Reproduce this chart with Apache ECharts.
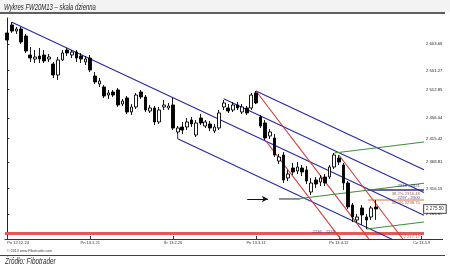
<!DOCTYPE html>
<html><head><meta charset="utf-8">
<script src="https://cdn.jsdelivr.net/npm/echarts@6/dist/echarts.min.js"></script>
<style>html,body{margin:0;padding:0;background:#fff}#c{width:450px;height:267px}</style>
</head><body><div id="c"></div>
<script>
// trading days (categories)
const dates = ['12.12.24','12.12.27','12.12.28','12.12.31','13.01.02','13.01.03','13.01.04','13.01.07','13.01.08','13.01.09','13.01.10','13.01.11','13.01.14','13.01.15','13.01.16','13.01.17','13.01.18','13.01.21','13.01.22','13.01.23','13.01.24','13.01.25','13.01.28','13.01.29','13.01.30','13.01.31','13.02.01','13.02.04','13.02.05','13.02.06','13.02.07','13.02.08','13.02.11','13.02.12','13.02.13','13.02.14','13.02.15','13.02.18','13.02.19','13.02.20','13.02.21','13.02.22','13.02.25','13.02.26','13.02.27','13.02.28','13.03.01','13.03.04','13.03.05','13.03.06','13.03.07','13.03.08','13.03.11','13.03.12','13.03.13','13.03.14','13.03.15','13.03.18','13.03.19','13.03.20','13.03.21','13.03.22','13.03.25','13.03.26','13.03.27','13.03.28','13.04.02','13.04.03','13.04.04','13.04.05','13.04.08','13.04.09','13.04.10','13.04.11','13.04.12','13.04.15','13.04.16','13.04.17','13.04.18','13.04.19','13.04.22','13.04.23','13.04.24','13.04.25','13.04.26','13.04.29','13.04.30','13.05.02','13.05.06','13.05.07','13.05.08'];
// [open, close, low, high]
const candles = [
[2625.6,2611.6,2607.7,2629.5],[2641.5,2629.5,2625.6,2647.4],[2629.5,2633.5,2623.6,2637.5],[2633.5,2607.7,2603.7,2637.5],
[2619.6,2589.8,2585.8,2623.6],[2581.8,2575.8,2567.9,2597.7],[2573.8,2577.8,2565.9,2591.7],[2579.8,2573.8,2565.9,2595.7],
[2581.8,2569.9,2565.9,2591.7],[2573.8,2577.8,2567.9,2583.8],[2563.9,2542.0,2536.1,2567.9],[2542.0,2571.9,2532.1,2577.8],
[2571.9,2585.8,2569.9,2591.7],[2591.7,2585.8,2579.8,2595.7],[2581.8,2587.8,2575.8,2591.7],[2587.8,2575.8,2567.9,2591.7],
[2579.8,2573.8,2565.9,2585.8],[2567.9,2573.8,2561.9,2579.8],[2575.8,2551.9,2548.0,2581.8],[2540.0,2528.1,2524.1,2548.0],
[2524.1,2530.1,2518.2,2536.1],[2518.2,2500.3,2496.3,2522.1],[2502.2,2506.2,2494.3,2512.2],[2508.2,2502.2,2498.3,2512.2],
[2512.2,2482.4,2478.4,2516.2],[2484.3,2490.3,2480.4,2494.3],[2496.3,2468.4,2464.5,2500.3],[2468.4,2478.4,2462.5,2484.3],
[2478.4,2502.2,2474.4,2506.2],[2508.2,2498.3,2494.3,2512.2],[2498.3,2472.4,2468.4,2502.2],[2470.4,2476.4,2466.5,2482.4],
[2476.4,2448.6,2442.6,2480.4],[2448.6,2472.4,2444.6,2478.4],[2478.4,2482.4,2472.4,2492.3],[2476.4,2480.4,2472.4,2486.3],
[2482.4,2436.6,2432.5,2496.3],[2428.7,2436.6,2424.7,2440.6],[2438.6,2432.5,2424.7,2448.6],[2438.6,2448.6,2432.5,2456.5],
[2452.5,2444.6,2438.6,2458.5],[2422.7,2446.6,2418.7,2452.5],[2456.5,2446.6,2442.6,2464.5],[2440.6,2448.6,2436.6,2452.5],
[2444.6,2436.6,2430.6,2450.5],[2430.6,2438.6,2426.7,2444.6],[2436.6,2466.5,2432.5,2472.4],[2478.4,2486.3,2472.4,2492.3],
[2476.4,2470.4,2466.5,2484.3],[2472.4,2482.4,2468.4,2488.3],[2482.4,2476.4,2472.4,2488.3],[2468.4,2478.4,2464.5,2484.3],
[2476.4,2466.5,2462.5,2480.4],[2476.4,2502.2,2472.4,2506.2],[2506.2,2486.3,2484.3,2510.2],[2458.5,2440.6,2436.6,2462.5],
[2446.6,2416.7,2412.7,2452.5],[2420.7,2428.7,2414.7,2434.6],[2416.7,2382.9,2378.9,2424.7],[2370.9,2378.9,2365.0,2384.9],
[2382.9,2333.2,2327.2,2388.9],[2337.2,2345.1,2331.2,2353.1],[2357.0,2349.1,2343.1,2367.0],[2351.1,2359.0,2345.1,2368.9],
[2357.0,2349.1,2341.1,2363.0],[2353.1,2331.2,2325.2,2361.0],[2309.3,2327.2,2303.4,2337.2],[2333.2,2325.2,2317.3,2339.2],
[2329.2,2337.2,2321.2,2343.1],[2339.2,2327.2,2321.2,2345.1],[2339.2,2359.0,2335.2,2363.0],[2359.0,2382.9,2355.1,2386.9],
[2376.9,2368.9,2363.0,2382.9],[2363.0,2327.2,2313.3,2367.0],[2327.2,2279.5,2275.5,2331.2],[2283.5,2259.6,2249.6,2287.4],
[2253.6,2259.6,2247.7,2265.6],[2277.5,2263.6,2243.7,2283.5],[2259.6,2253.6,2235.7,2265.6],[2259.6,2277.5,2253.6,2281.5],
[2279.5,2275.5,2253.6,2293.4]
];
// axis ticks
const xTickPos = [0, 18, 36, 54, 72, 90];
const xTickLabels = ['Pn 12.12.24','Pn 13.1.21','Śr 13.2.20','Pn 13.3.11','Pn 13.4.12','Cz 13.5.9'];
const yTickValues = [2265.57, 2316.15, 2368.81, 2415.42, 2456.04, 2512.85, 2551.27, 2603.69];
const yTickLabels = ['2 265.57','2 316.15','2 368.81','2 415.42','2 456.04','2 512.85','2 551.27','2 603.69'];
// drawn trend lines: [[barIndex, price], [barIndex, price]]
const blueLines = [
  [[1, 2647.0], [90.5, 2263.0]],
  [[37, 2415.1], [84, 2213.4]],
  [[54, 2510.2], [90.5, 2353.6]],
  [[47, 2495.0], [90.5, 2308.3]]
];
const anchorSeg = [[37, 2436.6], [37, 2415.1]];
const redLines = [
  [[54, 2510.2], [78.5, 2216.0]],
  [[56, 2412.7], [72.4, 2215.9]],
  [[72, 2382.9], [85.9, 2215.8]]
];
const greenLines = [
  [[71, 2386.9], [90.5, 2408.8]],
  [[63.6, 2296.4], [90.5, 2326.6]],
  [[78, 2235.7], [90.5, 2249.7]]
];
// horizontal levels: [fromIndex, toIndex, price]
const levels = [[78.3, 90.5, 2313.3], [78.3, 90.5, 2293.4], [-0.5, 90.5, 2226.8]];
const arrowLine = [[52.1, 2295.4], [56.6, 2295.4]];
const supportSeg = [[59, 2295.4], [63.6, 2295.4]];
const notes = [
  ['2316 - 2321', 89.6, 2321.2],
  ['38.2% 2316.48', 89.6, 2305.6],
  ['2297 - 2300', 89.6, 2298.6],
  ['50.0% 2298.73', 89.6, 2287.8],
  ['2236 - 2233', 66.3, 2231.0],
  ['2 217.17', 89.6, 2219.2]
];
const lastPrice = 2275.5;
const lastPriceLabel = '2 275.50';

const chart = echarts.init(document.getElementById('c'), null, {renderer: 'canvas'});
const FONT = 'Liberation Sans, Arial, sans-serif';
function seg(pts, color, width) {
  return {type: 'line', xAxisIndex: 1, yAxisIndex: 0, data: pts, symbol: 'none', silent: true,
    lineStyle: {color: color, width: width}, z: 3, clip: true, animation: false};
}
const series = [];
series.push({
  type: 'candlestick', data: candles, barWidth: 3.2, z: 4,
  itemStyle: {color: '#ffffff', color0: '#000000', borderColor: '#000000', borderColor0: '#000000', borderWidth: 0.9}
});
levels.forEach((l, i) => {
  const col = i === 0 ? '#3a2c86' : (i === 1 ? '#eaa27f' : '#e65757');
  const w = i === 2 ? 3 : 1.6;
  series.push(seg([[l[0], l[2]], [l[1], l[2]]], col, w));
});
blueLines.forEach(p => series.push(seg(p, '#2626a6', 1.1)));
series.push(seg(anchorSeg, '#2626a6', 1));
redLines.forEach(p => series.push(seg(p, '#d03a3a', 1.1)));
greenLines.forEach(p => series.push(seg(p, '#3e8e3e', 1.1)));
series.push(seg(supportSeg, '#222', 1));
series.push({
  type: 'line', xAxisIndex: 1, data: [], silent: true,
  markLine: {silent: true, symbol: ['none', 'arrow'], symbolSize: [5, 6], animation: false, label: {show: false},
    lineStyle: {color: '#111', width: 1, type: 'solid'},
    data: [[{coord: arrowLine[0]}, {coord: arrowLine[1]}]]}
});
series.push({
  type: 'scatter', xAxisIndex: 1, symbolSize: 0, silent: true, z: 6,
  data: notes.map(n => ({value: [n[1], n[2]], label: {formatter: n[0],
    position: n[1] > 80 ? 'left' : 'right', color: n[0].indexOf('%') >= 0 ? '#7a3a2a' : (n[0] === '2 217.17' ? '#d03030' : '#1a1a6a')}})),
  label: {show: true, distance: 0, fontSize: 4.2, fontFamily: FONT}
});
series.push({
  type: 'scatter', xAxisIndex: 1, symbolSize: 0, silent: true, z: 7, clip: false,
  data: [[90.5, lastPrice]],
  label: {show: true, position: 'right', distance: 0, formatter: lastPriceLabel, fontSize: 4.6, fontFamily: FONT,
    color: '#000', backgroundColor: '#fff', borderColor: '#000', borderWidth: 0.8, padding: [1.5, 2]}
});

chart.setOption({
  animation: false,
  backgroundColor: '#ffffff',
  grid: {left: 5, right: 26, top: 18, bottom: 28},
  xAxis: [
    {type: 'category', data: dates, boundaryGap: true,
      axisLine: {lineStyle: {color: '#333', width: 1}},
      axisTick: {show: true, inside: true, length: 3, alignWithLabel: true, lineStyle: {color: '#333'},
        interval: (i) => xTickPos.indexOf(i) >= 0},
      axisLabel: {interval: (i) => xTickPos.indexOf(i) >= 0, fontSize: 4, color: '#333', margin: 2, fontFamily: FONT,
        formatter: (v, i) => xTickLabels[xTickPos.indexOf(i)] || '', alignMinLabel: 'left'},
      splitLine: {show: false}},
    {type: 'value', min: -0.5, max: 90.5, show: false}
  ],
  yAxis: {type: 'value', position: 'right', min: 2215.8, max: 2655.4,
    axisLine: {show: true, lineStyle: {color: '#222', width: 1}},
    axisTick: {show: true, length: 2, customValues: yTickValues, lineStyle: {color: '#222'}},
    axisLabel: {customValues: yTickValues, fontSize: 4.2, color: '#222', margin: 2, fontFamily: FONT,
      formatter: (v) => { let k = 0, d = 1e9; yTickValues.forEach((t, j) => { if (Math.abs(t - v) < d) { d = Math.abs(t - v); k = j; } }); return yTickLabels[k]; }},
    splitLine: {show: false}},
  graphic: [
    {type: 'rect', shape: {x: 0, y: 0, width: 450, height: 12}, style: {fill: '#f3f3f3'}, silent: true},
    {type: 'text', left: 4, top: 3, style: {text: 'Wykres FW20M13 – skala dzienna', fontSize: 8.5, fontStyle: 'italic', fontFamily: FONT, fill: '#2a2a2a'}, scaleX: 0.7, silent: true},
    {type: 'line', shape: {x1: 0, y1: 13, x2: 445, y2: 13}, style: {stroke: '#2a2a2a', lineWidth: 1.5}, silent: true},
    {type: 'line', shape: {x1: 424, y1: 239.5, x2: 443, y2: 239.5}, style: {stroke: '#333', lineWidth: 1}, silent: true},
    {type: 'text', left: 7, top: 249, style: {text: '© 2013 www.Fibotrader.com', fontSize: 3.6, fontFamily: FONT, fill: '#444'}, silent: true},
    {type: 'line', shape: {x1: 0, y1: 255.5, x2: 445, y2: 255.5}, style: {stroke: '#444', lineWidth: 1}, silent: true},
    {type: 'text', left: 5, top: 257, style: {text: 'Źródło: Fibotrader', fontSize: 8.5, fontStyle: 'italic', fontFamily: FONT, fill: '#2a2a2a'}, scaleX: 0.75, silent: true}
  ],
  series: series
});
</script></body></html>
